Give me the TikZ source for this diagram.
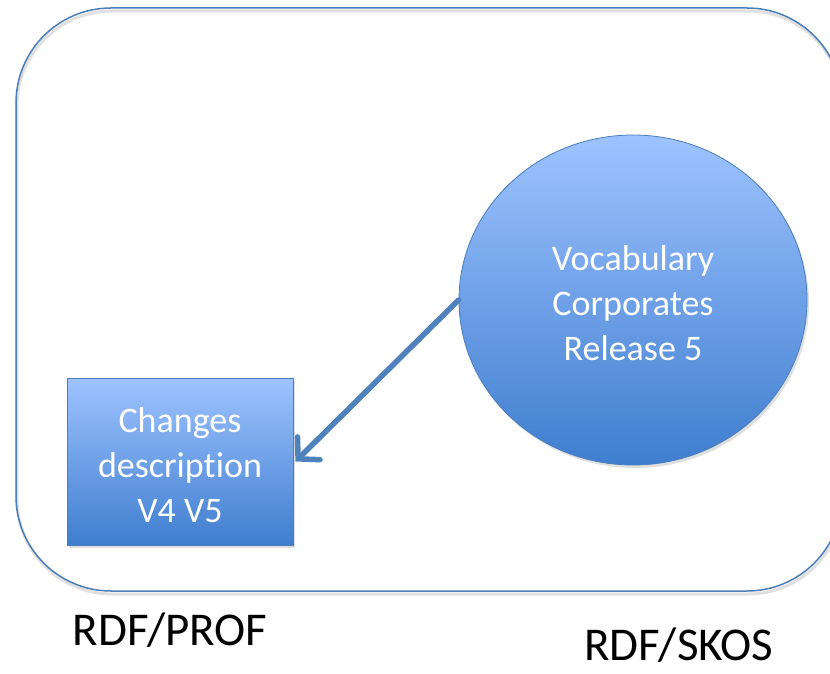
\documentclass[tikz,border=0pt]{standalone}
\usepackage{fontspec}
\setmainfont{Carlito}[Ligatures=NoCommon]
\usetikzlibrary{shapes.geometric,arrows.meta,shadows}
\definecolor{edgeblue}{HTML}{4A7EBB}
\definecolor{topblue}{HTML}{9EC3FF}
\definecolor{botblue}{HTML}{3F7ECF}
\definecolor{arrowblue}{HTML}{4F81BD}
\begin{document}
\begin{tikzpicture}[x=1pt,y=-1pt]
		\tikzset{shape box/.style = {draw=edgeblue, line width=0.8pt, top color=topblue, bottom color=botblue,
				text=white, align=center, font=\fontsize{36}{45}\selectfont,
				drop shadow={opacity=0.25, shadow xshift=2pt, shadow yshift=-3pt}},
			label text/.style = {font=\fontsize{47}{56}\selectfont, text=black, inner sep=0pt}}

		\useasboundingbox (0,0) rectangle (830,674);
		\clip (0,0) rectangle (830,674);

		%frame
		\draw[black!12, line width=3pt, rounded corners=95pt] (17,11) rectangle (843,594);
		\draw[edgeblue, line width=1.5pt, rounded corners=95pt] (16,8) rectangle (842,591);

		\node[shape box, ellipse, minimum width=348pt, minimum height=330pt, inner sep=0pt] (voc) at (633,300) {\strut Vocabulary\\Corporates\\Release 5};
		\node[shape box, rectangle, minimum width=226pt, minimum height=167pt, inner sep=0pt] (chg) at (180,461.5) {\strut Changes\\description\\V4 V5};

		\node[label text] (L_1) at (170,630) {RDF/PROF};
		\node[label text] (L_2) at (679,645) {RDF/SKOS};

		%arrows
		\draw[arrowblue, line width=5.5pt, line cap=round, -{Straight Barb[length=15pt, width=32pt, line cap=round]}] (voc.west) -- ([xshift=2pt]chg.east);

	\end{tikzpicture}
\end{document}
